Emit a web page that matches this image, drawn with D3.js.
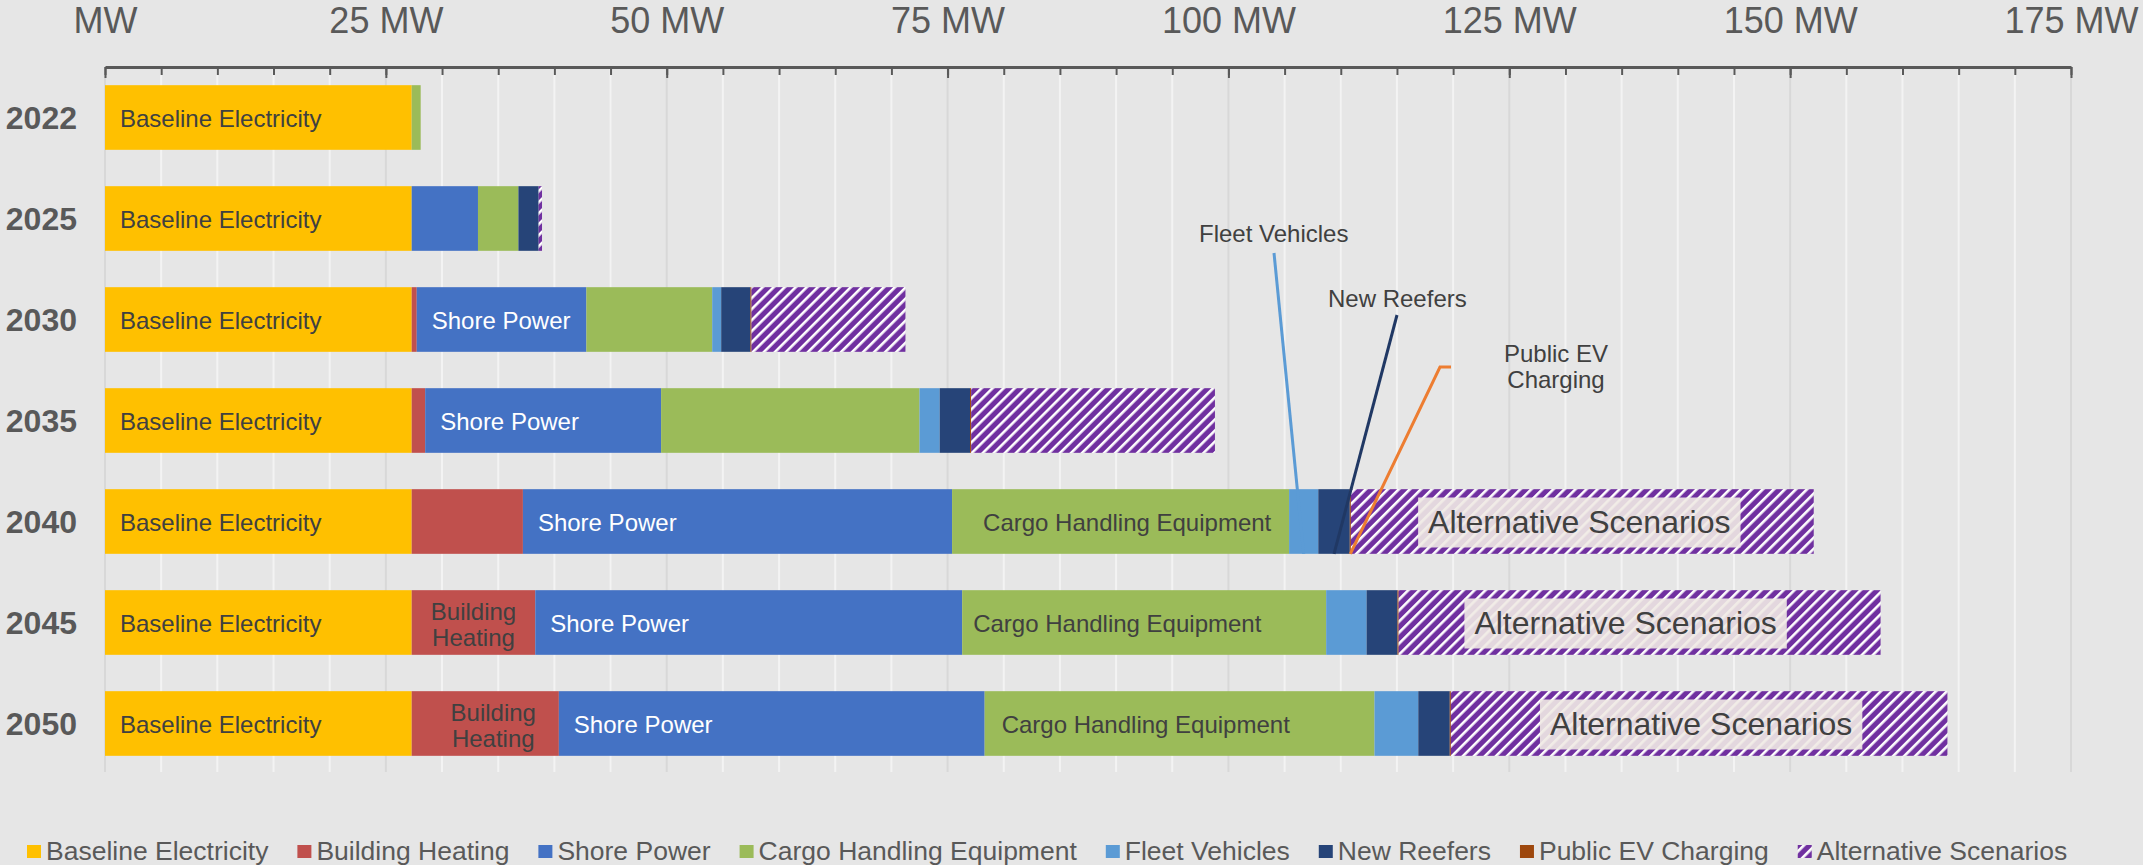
<!DOCTYPE html>
<html>

<head>
    <meta charset="utf-8">
    <style>
        body {
            margin: 0;
            background: #e6e6e6;
            font-family: 'Liberation Sans', Arial, sans-serif;
        }

        svg {
            display: block;
        }

        .grid line {
            stroke: #f3f3f3;
            stroke-width: 2;
        }

        .grid line.major {
            stroke: #d8d8d8;
        }

        .ticks .domain {
            stroke: #595959;
            stroke-width: 3;
        }

        .ticks .tick line {
            stroke: #595959;
            stroke-width: 2;
        }

        .labels .tick text {
            font-size: 36px;
            fill: #595959;
        }

        .year-label {
            font-size: 32px;
            font-weight: bold;
            fill: #595959;
        }

        .bar-label {
            font-size: 24px;
            fill: #404040;
        }

        .bar-label.white {
            fill: #ffffff;
        }

        .alt-label {
            font-size: 32px;
            fill: #404040;
        }

        .note {
            font-size: 24px;
            fill: #404040;
        }

        .legend text {
            font-size: 26.5px;
            fill: #595959;
        }
    </style>
</head>

<body>
    <svg width="2143" height="865"></svg>

    <script src="https://d3js.org/d3.v7.min.js"></script>
    <script>
        // values (MW)
        const years = ["2022", "2025", "2030", "2035", "2040", "2045", "2050"];
        const baseline = [27.3, 27.3, 27.3, 27.3, 27.3, 27.3, 27.3];
        const heating = [0, 0, 0.45, 1.2, 9.9, 11.0, 13.1];
        const shore = [0, 5.9, 15.1, 21.0, 38.2, 38.0, 37.9];
        const cargo = [0.8, 3.6, 11.2, 23.0, 30.0, 32.4, 34.7];
        const fleet = [0, 0, 0.8, 1.8, 2.6, 3.6, 3.9];
        const reefers = [0, 1.8, 2.6, 2.7, 2.8, 2.75, 2.8];
        const publicEV = [0, 0, 0.1, 0.1, 0.1, 0.1, 0.1];
        const alternative = [0, 0.3, 13.7, 21.7, 41.2, 42.9, 44.2];

        const seriesNames = ["Baseline Electricity", "Building Heating", "Shore Power", "Cargo Handling Equipment",
            "Fleet Vehicles", "New Reefers", "Public EV Charging", "Alternative Scenarios"];
        const seriesColors = ["#FFC000", "#C0504D", "#4472C4", "#9BBB59", "#5B9BD5", "#264478", "#9E480E", "url(#hatch)"];

        const tickValues = [0, 25, 50, 75, 100, 125, 150, 175];
        const minorTicks = d3.range(0, 176, 5);

        let width = 2143;
        let height = 865;
        let margin = { top: 67, left: 105, right: 72, bottom: 91 };

        let table = years.map((y, i) => ({
            year: y,
            "Baseline Electricity": baseline[i],
            "Building Heating": heating[i],
            "Shore Power": shore[i],
            "Cargo Handling Equipment": cargo[i],
            "Fleet Vehicles": fleet[i],
            "New Reefers": reefers[i],
            "Public EV Charging": publicEV[i],
            "Alternative Scenarios": alternative[i]
        }))

        let series = d3.stack().keys(seriesNames)(table)

        let color = d3.scaleOrdinal()
            .domain(seriesNames)
            .range(seriesColors)

        let x = d3.scaleLinear()
            .domain([0, 175])
            .range([margin.left, width - margin.right])

        let y = d3.scaleBand()
            .domain(years)
            .range([margin.top, height - margin.bottom])
            .paddingInner(0.36)
            .paddingOuter(0.18)

        let svg = d3.select("svg")

        // hatch for the alternative scenarios
        let defs = svg.append("defs")
        let pat = defs.append("pattern")
            .attr("id", "hatch")
            .attr("patternUnits", "userSpaceOnUse")
            .attr("width", 7.8)
            .attr("height", 7.8)
            .attr("patternTransform", "rotate(45)")
        pat.append("rect").attr("width", 7.8).attr("height", 7.8).attr("fill", "#7030A0")
        pat.append("rect").attr("width", 2.6).attr("height", 7.8).attr("fill", "#ffffff")

        // gridlines
        svg.append("g")
            .attr("class", "grid")
            .selectAll("line")
            .data(minorTicks)
            .join("line")
            .attr("class", d => d % 25 == 0 ? "major" : "minor")
            .attr("x1", d => x(d))
            .attr("x2", d => x(d))
            .attr("y1", margin.top)
            .attr("y2", height - margin.bottom - 2)

        // bars
        let bars = svg.append("g")
        bars.selectAll("g")
            .data(series)
            .join("g")
            .attr("fill", d => color(d.key))
            .selectAll("rect")
            .data(d => d)
            .join("rect")
            .attr("x", d => x(d[0]))
            .attr("y", d => y(d.data.year))
            .attr("width", d => x(d[1]) - x(d[0]))
            .attr("height", y.bandwidth())

        // axis on top
        svg.append("g")
            .attr("class", "ticks")
            .attr("transform", `translate(0,${margin.top})`)
            .call(d3.axisBottom(x).tickValues(minorTicks).tickSize(8).tickSizeOuter(0).tickFormat(""))

        svg.append("g")
            .attr("class", "ticks")
            .attr("transform", `translate(0,${margin.top})`)
            .call(d3.axisBottom(x).tickValues(tickValues).tickSize(11).tickFormat(""))
            .call(g => g.select(".domain").remove())

        svg.append("g")
            .attr("class", "labels")
            .attr("transform", `translate(0,${margin.top})`)
            .call(d3.axisTop(x).tickValues(tickValues).tickSize(0).tickPadding(34)
                .tickFormat(d => d == 0 ? "MW" : d + " MW"))
            .call(g => g.select(".domain").remove())
            .call(g => g.selectAll("text").attr("font-family", null))

        // year labels
        svg.append("g")
            .selectAll("text")
            .data(years)
            .join("text")
            .attr("class", "year-label")
            .attr("x", 77)
            .attr("y", d => y(d) + y.bandwidth() / 2)
            .attr("dy", "0.35em")
            .attr("text-anchor", "end")
            .text(d => d)

        // labels inside the bars
        let seg = (key, year) => series.find(s => s.key == key).find(d => d.data.year == year)
        let mid = year => y(year) + y.bandwidth() / 2
        let labels = svg.append("g")

        years.forEach(yr => {
            labels.append("text")
                .attr("class", "bar-label")
                .attr("x", x(seg("Baseline Electricity", yr)[0]) + 15)
                .attr("y", mid(yr))
                .attr("dy", "0.38em")
                .text("Baseline Electricity")
        })

        years.filter(yr => +yr >= 2030).forEach(yr => {
            labels.append("text")
                .attr("class", "bar-label white")
                .attr("x", x(seg("Shore Power", yr)[0]) + 15)
                .attr("y", mid(yr))
                .attr("dy", "0.38em")
                .text("Shore Power")
        })

        let cargoPad = { "2040": 31, "2045": 11, "2050": 17 }
        Object.keys(cargoPad).forEach(yr => {
            labels.append("text")
                .attr("class", "bar-label")
                .attr("x", x(seg("Cargo Handling Equipment", yr)[0]) + cargoPad[yr])
                .attr("y", mid(yr))
                .attr("dy", "0.38em")
                .text("Cargo Handling Equipment")
        })

        let heatShift = { "2045": 0, "2050": 8 }
        Object.keys(heatShift).forEach(yr => {
            let s = seg("Building Heating", yr)
            let t = labels.append("text")
                .attr("class", "bar-label")
                .attr("text-anchor", "middle")
                .attr("x", (x(s[0]) + x(s[1])) / 2 + heatShift[yr])
                .attr("y", mid(yr))
            t.append("tspan").attr("x", (x(s[0]) + x(s[1])) / 2 + heatShift[yr]).attr("dy", -3).text("Building")
            t.append("tspan").attr("x", (x(s[0]) + x(s[1])) / 2 + heatShift[yr]).attr("dy", 26).text("Heating")
        })

        let altShift = { "2040": -3, "2045": -14, "2050": 2 }
        Object.keys(altShift).forEach(yr => {
            let s = seg("Alternative Scenarios", yr)
            let cx = (x(s[0]) + x(s[1])) / 2 + altShift[yr]
            let g = labels.append("g")
            let t = g.append("text")
                .attr("class", "alt-label")
                .attr("text-anchor", "middle")
                .attr("x", cx)
                .attr("y", mid(yr))
                .attr("dy", "0.36em")
                .text("Alternative Scenarios")
            let w = t.node().getComputedTextLength()
            g.insert("rect", "text")
                .attr("x", cx - w / 2 - 10)
                .attr("y", mid(yr) - 24)
                .attr("width", w + 20)
                .attr("height", 50)
                .attr("fill", "#efeae4")
                .attr("fill-opacity", 0.9)
        })

        // callouts for the thin 2040 segments
        let notes = [
            { key: "Fleet Vehicles", lines: ["Fleet Vehicles"], tx: 1199, ty: 242, anchor: "start", from: [[1274, 253]], color: "#5B9BD5" },
            { key: "New Reefers", lines: ["New Reefers"], tx: 1328, ty: 307, anchor: "start", from: [[1397, 315]], color: "#203864" },
            { key: "Public EV Charging", lines: ["Public EV", "Charging"], tx: 1556, ty: 362, anchor: "middle", from: [[1451, 367], [1440, 367]], color: "#ED7D31" }
        ]

        let callouts = svg.append("g")
        notes.forEach(n => {
            let s = seg(n.key, "2040")
            let end = [(x(s[0]) + x(s[1])) / 2, y("2040") + y.bandwidth()]
            callouts.append("path")
                .attr("d", d3.line()(n.from.concat([end])))
                .attr("fill", "none")
                .attr("stroke", n.color)
                .attr("stroke-width", 3)
            let t = callouts.append("text")
                .attr("class", "note")
                .attr("text-anchor", n.anchor)
                .attr("x", n.tx)
                .attr("y", n.ty)
            n.lines.forEach((l, i) => {
                t.append("tspan").attr("x", n.tx).attr("dy", i == 0 ? 0 : 26).text(l)
            })
        })

        // legend
        let legend = svg.append("g").attr("class", "legend")
        let lx = 27
        seriesNames.forEach(name => {
            legend.append("rect")
                .attr("x", lx)
                .attr("y", 845)
                .attr("width", 14)
                .attr("height", 13)
                .attr("fill", color(name))
            let t = legend.append("text")
                .attr("x", lx + 19)
                .attr("y", 860)
                .text(name)
            lx += 19 + t.node().getComputedTextLength() + 29
        })
    </script>
</body>

</html>
